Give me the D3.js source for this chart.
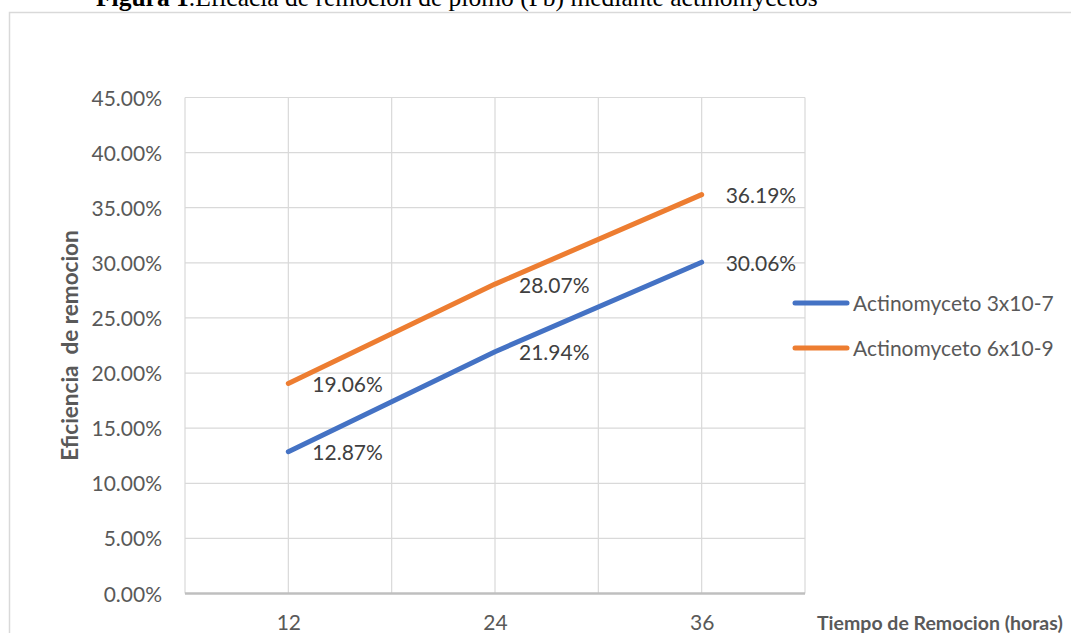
<!DOCTYPE html>
<html>
<head>
<meta charset="utf-8">
<script src="https://cdn.jsdelivr.net/npm/d3@7"></script>
<style>
  html, body { margin: 0; padding: 0; background: #fff; overflow: hidden; }
  svg { display: block; }
</style>
</head>
<body>
<svg id="chart" width="1071" height="633"></svg>
<script>
// Removal time (hours) and removal efficiency for each actinomycete inoculum
const hours = [12, 24, 36];
const serieA = [0.1287, 0.2194, 0.3006];   // Actinomyceto 3x10-7
const serieB = [0.1906, 0.2807, 0.3619];   // Actinomyceto 6x10-9
const seriesNames = ["Actinomyceto 3x10-7", "Actinomyceto 6x10-9"];
const seriesColors = ["#4472C4", "#ED7D31"];
const yTicks = [0, 0.05, 0.10, 0.15, 0.20, 0.25, 0.30, 0.35, 0.40, 0.45];
const xGridValues = [6, 12, 18, 24, 30, 36, 42];
const xTickLabels = [12, 24, 36];

const titleBold = "Figura 1";
const titleRest = ".Eficacia de remocion de plomo (Pb) mediante actinomycetos";
const yTitle = "Eficiencia\u00a0 de remocion";
const xTitle = "Tiempo de Remocion (horas)";

const svg = d3.select("#chart");
const font = "Lato, 'Open Sans', sans-serif";

const plot = { left: 185, right: 805, top: 97.5, bottom: 593.5 };
const x = d3.scaleLinear().domain([6, 42]).range([plot.left, plot.right]);
const y = d3.scaleLinear().domain([0, 0.45]).range([plot.bottom, plot.top]);

// Chart frame
svg.append("rect")
  .attr("x", 9.5).attr("y", 12.5)
  .attr("width", 1100).attr("height", 700)
  .attr("fill", "#fff")
  .attr("stroke", "#d9d9d9").attr("stroke-width", 1.5);

// Caption above the frame
const title = svg.append("text")
  .attr("x", 96).attr("y", 6)
  .attr("font-family", "'Liberation Serif', 'Times New Roman', serif")
  .attr("font-size", 25.5).attr("fill", "#000");
title.append("tspan").attr("font-weight", "bold").text(titleBold);
title.append("tspan").text(titleRest);

// Gridlines
const grid = svg.append("g").attr("stroke", "#d9d9d9").attr("stroke-width", 1.2);
grid.selectAll("line.h").data(yTicks.slice(1)).join("line")
  .attr("x1", plot.left).attr("x2", plot.right)
  .attr("y1", d => y(d)).attr("y2", d => y(d));
grid.selectAll("line.v").data(xGridValues).join("line")
  .attr("y1", plot.top).attr("y2", plot.bottom)
  .attr("x1", d => x(d)).attr("x2", d => x(d));

// Horizontal axis line
svg.append("line")
  .attr("x1", plot.left).attr("x2", plot.right)
  .attr("y1", plot.bottom).attr("y2", plot.bottom)
  .attr("stroke", "#bfbfbf").attr("stroke-width", 2.5);

// Y axis labels
const yAxis = svg.append("g")
  .attr("transform", `translate(${plot.left},0)`)
  .call(d3.axisLeft(y).tickValues(yTicks).tickFormat(d3.format(".2%")).tickSize(0).tickPadding(23));
yAxis.select(".domain").remove();
yAxis.selectAll("text")
  .attr("font-family", font).attr("font-size", 21).attr("fill", "#595959")
  .attr("dy", "0.36em");

// X axis labels
const xAxis = svg.append("g")
  .attr("transform", `translate(0,${plot.bottom})`)
  .call(d3.axisBottom(x).tickValues(xTickLabels).tickFormat(d3.format("d")).tickSize(0));
xAxis.select(".domain").remove();
xAxis.selectAll("text")
  .attr("font-family", font).attr("font-size", 21).attr("fill", "#595959")
  .attr("y", 36.5).attr("dy", 0);

// Axis titles
svg.append("text")
  .attr("transform", `translate(78,${(plot.top + plot.bottom) / 2}) rotate(-90)`)
  .attr("text-anchor", "middle")
  .attr("font-family", font).attr("font-size", 22.5).attr("font-weight", "bold")
  .attr("fill", "#595959")
  .text(yTitle);

svg.append("text")
  .attr("x", 817).attr("y", plot.bottom + 36.5)
  .attr("font-family", font).attr("font-size", 19.5).attr("font-weight", "bold")
  .attr("fill", "#595959")
  .text(xTitle);

// Series lines and value labels
const series = [serieA, serieB].map((vals, i) => ({
  name: seriesNames[i],
  color: seriesColors[i],
  points: hours.map((h, j) => ({ h, v: vals[j] }))
}));

const line = d3.line().x(d => x(d.h)).y(d => y(d.v));

svg.append("g").selectAll("path").data(series).join("path")
  .attr("d", d => line(d.points))
  .attr("fill", "none")
  .attr("stroke", d => d.color)
  .attr("stroke-width", 5)
  .attr("stroke-linecap", "round")
  .attr("stroke-linejoin", "round");

svg.append("g").selectAll("g").data(series).join("g")
  .selectAll("text").data(d => d.points).join("text")
  .attr("x", d => x(d.h) + 24)
  .attr("y", d => y(d.v) + 1)
  .attr("dy", "0.36em")
  .attr("font-family", font).attr("font-size", 21).attr("fill", "#404040")
  .text(d => d3.format(".2%")(d.v));

// Legend
const legend = svg.append("g").selectAll("g").data(series).join("g")
  .attr("transform", (d, i) => `translate(795,${303 + i * 45})`);
legend.append("line")
  .attr("x1", 0).attr("x2", 52).attr("y1", 0).attr("y2", 0)
  .attr("stroke", d => d.color).attr("stroke-width", 5).attr("stroke-linecap", "round");
legend.append("text")
  .attr("x", 58).attr("y", 0).attr("dy", "0.36em")
  .attr("font-family", font).attr("font-size", 21).attr("fill", "#595959")
  .text(d => d.name);
</script>
</body>
</html>
